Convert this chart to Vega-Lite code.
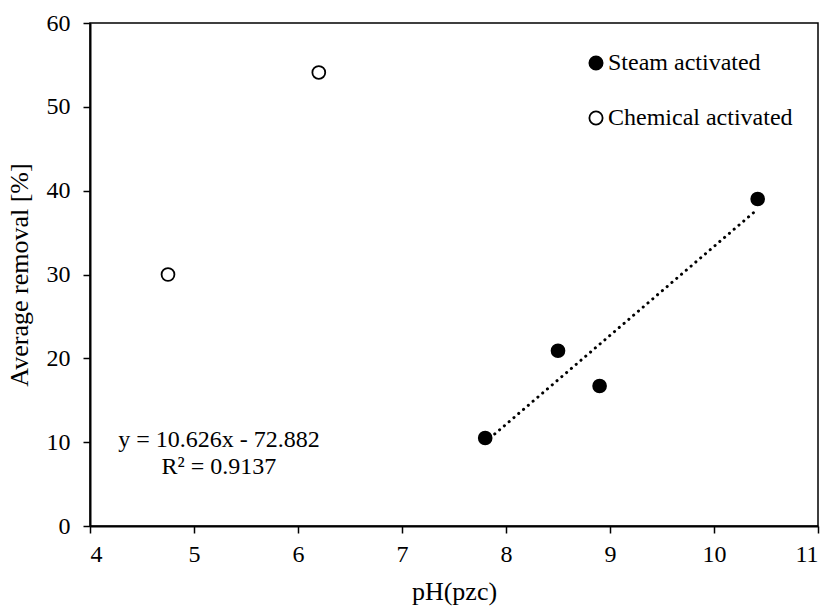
{
  "$schema": "https://vega.github.io/schema/vega-lite/v6.json",
  "width": 728,
  "height": 503,
  "autosize": {"type": "none"},
  "padding": {"left": 90, "top": 23, "right": 15, "bottom": 80},
  "background": "white",
  "config": {
    "font": "Liberation Serif",
    "view": {"stroke": "black", "strokeWidth": 1.5},
    "axis": {
      "domainColor": "black", "domainWidth": 2, "tickColor": "black", "tickWidth": 1.5, "tickSize": 7,
      "labelFont": "Liberation Serif", "labelFontSize": 24, "labelColor": "black",
      "titleFont": "Liberation Serif", "titleFontSize": 26, "titleColor": "black", "titleFontWeight": "normal",
      "grid": false
    },
    "legend": {
      "labelFont": "Liberation Serif", "labelFontSize": 24, "labelColor": "black", "labelLimit": 400
    }
  },
  "datasets": {
    "pts": [
      {"ph": 7.80, "removal": 10.5, "type": "Steam activated"},
      {"ph": 8.50, "removal": 20.9, "type": "Steam activated"},
      {"ph": 8.90, "removal": 16.7, "type": "Steam activated"},
      {"ph": 10.42, "removal": 39.0, "type": "Steam activated"},
      {"ph": 4.75, "removal": 30.0, "type": "Chemical activated"},
      {"ph": 6.20, "removal": 54.1, "type": "Chemical activated"}
    ],
    "trend": [
      {"ph": 7.80, "removal": 10.0},
      {"ph": 10.42, "removal": 37.8}
    ],
    "note": [
      {"label": "fit"}
    ]
  },
  "layer": [
    {
      "data": {"name": "trend"},
      "mark": {"type": "line", "color": "black", "strokeWidth": 3, "strokeDash": [0.1, 6.2], "strokeCap": "round"},
      "encoding": {
        "x": {"field": "ph", "type": "quantitative"},
        "y": {"field": "removal", "type": "quantitative"}
      }
    },
    {
      "data": {"name": "pts"},
      "mark": {"type": "point", "shape": "circle", "stroke": "black", "strokeWidth": 1.8, "size": 165, "opacity": 1, "fillOpacity": 1},
      "encoding": {
        "x": {"field": "ph", "type": "quantitative", "title": "pH(pzc)",
              "scale": {"domain": [4, 11], "nice": false, "zero": false},
              "axis": {"values": [4,5,6,7,8,9,10,11], "format": "d", "labelPadding": 9, "titlePadding": 12}},
        "y": {"field": "removal", "type": "quantitative", "title": "Average removal [%]",
              "scale": {"domain": [0, 60], "nice": false},
              "axis": {"values": [0,10,20,30,40,50,60], "labelPadding": 13, "titlePadding": 14}},
        "fill": {"field": "type", "type": "nominal",
                 "scale": {"domain": ["Steam activated", "Chemical activated"], "range": ["black", "white"]},
                 "legend": {"orient": "none", "legendX": 494, "legendY": 28, "title": null, "padding": 0,
                            "symbolType": "circle", "symbolSize": 175, "symbolStrokeColor": "black", "symbolStrokeWidth": 1.8,
                            "symbolOpacity": 1, "rowPadding": 31, "labelOffset": 0}}
      }
    },
    {
      "data": {"name": "note"},
      "mark": {"type": "text", "text": ["y = 10.626x - 72.882", "R² = 0.9137"], "align": "center", "baseline": "middle",
               "lineHeight": 27, "fontSize": 24, "font": "Liberation Serif", "color": "black"},
      "encoding": {
        "x": {"datum": 5.24, "type": "quantitative"},
        "y": {"datum": 10.2, "type": "quantitative"}
      }
    }
  ]
}
